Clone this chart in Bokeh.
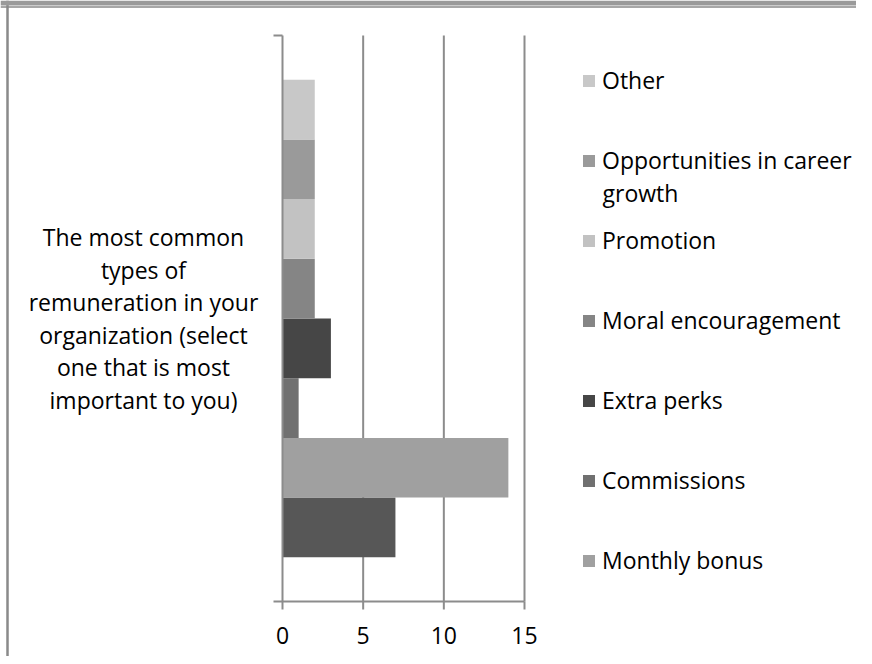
from bokeh.plotting import figure
from bokeh.models import (ColumnDataSource, Range1d, Legend, LegendItem,
                          Label, Span, BoxAnnotation)
from bokeh.core.properties import value
from bokeh.embed import file_html
from bokeh.resources import INLINE

# ---------------- data ----------------
category_lines = ["The most common", "types of", "remuneration in your",
                  "organization (select", "one that is most", "important to you)"]
# bottom -> top order of the bars
series_names = ["(series not shown in legend)", "Monthly bonus", "Commissions",
                "Extra perks", "Moral encouragement", "Promotion",
                "Opportunities in career growth", "Other"]
series_values = [7, 14, 1, 3, 2, 2, 2, 2]
series_colors = ["#575757", "#a0a0a0", "#707070", "#464646", "#858585",
                 "#c2c2c2", "#9a9a9a", "#c8c8c8"]
x_ticks = [0, 5, 10, 15]

# ---------------- layout constants (canvas pixels) ----------------
FONT = "Open Sans"
FS = "23px"
AXIS_COLOR = "#8c8c8c"
W, H = 856, 656
PLOT_L, PLOT_R = 282, 524    # x=0 and x=15 on canvas
PLOT_T, PLOT_B = 35, 601     # top / bottom of the plot area on canvas
X_MIN, X_MAX = 0, 15
n = len(series_values)
Y_TOP = n - 0.5 + 0.74       # category gap above/below the bars
Y_BOT = -0.5 - 0.74
XP = (PLOT_R - PLOT_L) / (X_MAX - X_MIN)
YP = (PLOT_B - PLOT_T) / (Y_TOP - Y_BOT)

x_range = Range1d(X_MIN - PLOT_L / XP, X_MAX + (W - PLOT_R) / XP)
y_range = Range1d(Y_BOT - (H - PLOT_B) / YP, Y_TOP + PLOT_T / YP)

positions = list(range(n))
source = ColumnDataSource(dict(y=positions, v=series_values, c=series_colors,
                               name=series_names))

p = figure(width=W, height=H, output_backend="svg", toolbar_location=None,
           x_range=x_range, y_range=y_range, x_axis_type=None, y_axis_type=None,
           min_border=0)
p.outline_line_color = None
p.background_fill_color = "white"
p.border_fill_color = "white"
p.grid.visible = False

# outer chart border (left and top edges visible) and top band
p.add_layout(Span(location=x_range.start + 7 / XP, dimension="height",
                  line_color="#8a8a8a", line_width=2.5))
p.add_layout(Span(location=y_range.end - 6.5 / YP, dimension="width",
                  line_color="#8a8a8a", line_width=1.5))
p.add_layout(BoxAnnotation(top=y_range.end, bottom=y_range.end - 5 / YP,
                           fill_color="#9a9a9a", fill_alpha=1.0,
                           line_color=None))

# vertical gridlines (under the bars)
p.segment(x0=x_ticks[1:], y0=[Y_BOT] * 3, x1=x_ticks[1:], y1=[Y_TOP] * 3,
          line_color=AXIS_COLOR, line_width=2)

r = p.hbar(y="y", left=0, right="v", height=1.0, fill_color="c",
           line_color=None, source=source)

# axes drawn through the scales
tick_out_x = 9 / XP
tick_out_y = 8 / YP
p.segment(x0=[X_MIN - tick_out_x, X_MIN, X_MIN - tick_out_x],
          y0=[Y_BOT, Y_BOT, Y_TOP],
          x1=[X_MAX, X_MIN, X_MIN], y1=[Y_BOT, Y_TOP, Y_TOP],
          line_color=AXIS_COLOR, line_width=2)
p.segment(x0=x_ticks, y0=[Y_BOT] * len(x_ticks), x1=x_ticks,
          y1=[Y_BOT - tick_out_y] * len(x_ticks),
          line_color=AXIS_COLOR, line_width=2)
p.text(x=x_ticks, y=[Y_BOT - 34 / YP] * len(x_ticks),
       text=[str(t) for t in x_ticks], text_font=value(FONT),
       text_font_size=FS, text_align="center", text_baseline="middle",
       text_color="black")

# legend (top -> bottom); the bottom bar's series has no visible entry
items = []
for i in range(n - 1, 0, -1):
    lab = series_names[i]
    if lab == "Opportunities in career growth":
        lab = "Opportunities in career"
    items.append(LegendItem(label=lab, renderers=[r], index=i))
legend = Legend(items=items, location=(581, 76), orientation="vertical",
                padding=0, margin=0, spacing=40, label_height=40,
                glyph_height=15, glyph_width=15, label_standoff=6,
                label_text_font=FONT, label_text_font_size=FS,
                label_text_color="black", border_line_color=None,
                background_fill_alpha=0)
p.add_layout(legend, "center")

p.add_layout(Label(x=602, y=464, x_units="screen", y_units="screen",
                   text="growth", text_font=FONT, text_font_size=FS,
                   text_align="left", text_baseline="middle",
                   text_color="black"))

p.add_layout(Label(x=143, y=338, x_units="screen", y_units="screen",
                   text="\n".join(category_lines), text_font=FONT,
                   text_font_size=FS, text_align="center",
                   text_baseline="middle", text_line_height=1.02,
                   text_color="black"))

open("out.html", "w").write(file_html(p, INLINE))
